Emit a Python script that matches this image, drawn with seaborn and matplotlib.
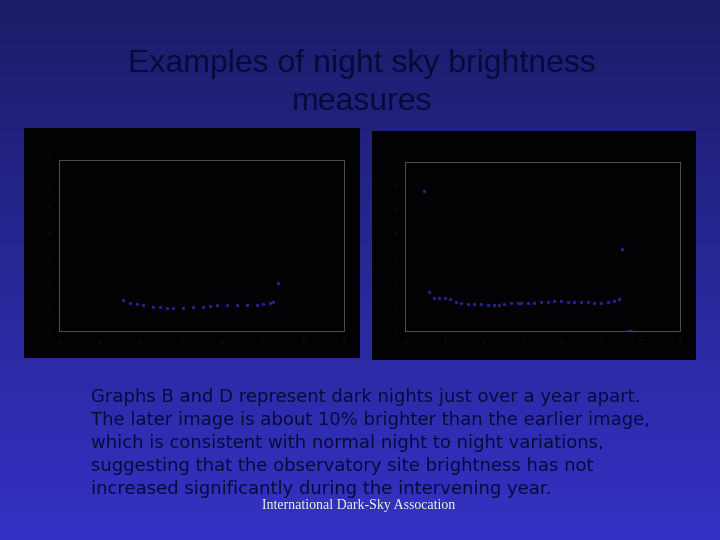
import numpy as np
import pandas as pd
import matplotlib
matplotlib.use("Agg")
import matplotlib.pyplot as plt
import seaborn as sb

# Graph B (earlier night) - readings across the night
b_time = [1.57, 1.74, 1.92, 2.06, 2.31, 2.48, 2.65, 2.80, 3.05, 3.29, 3.54, 3.71,
          3.88, 4.13, 4.37, 4.62, 4.86, 5.01, 5.18, 5.26, 5.38]
b_bright = [1.27, 1.15, 1.11, 1.07, 0.98, 0.98, 0.94, 0.94, 0.94, 0.98, 0.98, 1.02,
            1.07, 1.07, 1.07, 1.07, 1.07, 1.11, 1.15, 1.19, 1.97]

# Graph D (a year later)
d_time = [0.48, 0.61, 0.74, 0.87, 1.02, 1.15, 1.30, 1.42, 1.60, 1.76, 1.93, 2.11,
          2.26, 2.39, 2.52, 2.70, 2.88, 2.95, 3.13, 3.28, 3.46, 3.64, 3.79, 3.97,
          4.15, 4.30, 4.48, 4.66, 4.81, 4.99, 5.17, 5.32, 5.45, 5.52, 5.67, 5.75]
d_bright = [5.80, 1.62, 1.37, 1.37, 1.37, 1.33, 1.20, 1.16, 1.12, 1.12, 1.12, 1.08,
            1.08, 1.08, 1.12, 1.16, 1.16, 1.16, 1.16, 1.16, 1.20, 1.20, 1.24, 1.24,
            1.20, 1.20, 1.20, 1.20, 1.16, 1.16, 1.20, 1.24, 1.33, 3.40, 0.0, 0.0]

tick_vals = [0, 1, 2, 3, 4, 5, 6, 7]

title = "Examples of night sky brightness\nmeasures"
caption = ("Graphs B and D represent dark nights just over a year apart.\n"
           "The later image is about 10% brighter than the earlier image,\n"
           "which is consistent with normal night to night variations,\n"
           "suggesting that the observatory site brightness has not\n"
           "increased significantly during the intervening year.")
footer = "International Dark-Sky Assocation"

W, H = 720, 540


def box(x, y, w, h):
    # pixel box (from top-left) -> figure fraction rect
    return [x / W, 1 - (y + h) / H, w / W, h / H]


fig = plt.figure(figsize=(7.2, 5.4), dpi=100)

# slide background gradient
bg = fig.add_axes([0, 0, 1, 1])
top = np.array([28, 28, 104]) / 255
bot = np.array([52, 50, 196]) / 255
t = np.linspace(0, 1, 256)[:, None]
grad = top[None, :] * (1 - t) + bot[None, :] * t
bg.imshow(np.repeat(grad[:, None, :], 2, axis=1), aspect="auto", extent=[0, 1, 0, 1])
bg.set_axis_off()


def night_chart(panel_rect, inner_rect, xs, ys):
    panel = fig.add_axes(panel_rect)
    panel.set_facecolor("#020205")
    panel.set_xticks([])
    panel.set_yticks([])
    for s in panel.spines.values():
        s.set_visible(False)

    ax = fig.add_axes(inner_rect)
    ax.set_facecolor("#020205")
    df = pd.DataFrame({"time": xs, "brightness": ys})
    sb.scatterplot(data=df, x="time", y="brightness", ax=ax, color="#24248a",
                   s=6, linewidth=0)
    ax.set_xlim(0, 7)
    ax.set_ylim(0, 7)
    ax.set_xticks(tick_vals)
    ax.set_yticks(tick_vals)
    ax.tick_params(colors="#101010", labelsize=5, length=0, pad=6)
    ax.set_xlabel("")
    ax.set_ylabel("")
    for s in ax.spines.values():
        s.set_color("#4a4a4a")
        s.set_linewidth(0.8)
    return ax


night_chart(box(24, 128, 336, 230), box(59, 160, 285, 171), b_time, b_bright)
night_chart(box(372, 131, 324, 229), box(405, 162, 275, 169), d_time, d_bright)

fig.text(362 / W, 1 - 83 / H, title, ha="center", va="center", fontsize=23,
         family="Liberation Sans", color="#0a0a3a", linespacing=1.33)
fig.text(91 / W, 1 - 443 / H, caption, ha="left", va="center", fontsize=13,
         family="DejaVu Sans", color="#0a0a3a", linespacing=1.35)
fig.text(359 / W, 1 - 506 / H, footer, ha="center", va="center", fontsize=10,
         family="Liberation Serif", color="#f4f4d8")

fig.savefig("out.png", dpi=100, facecolor=fig.get_facecolor())
